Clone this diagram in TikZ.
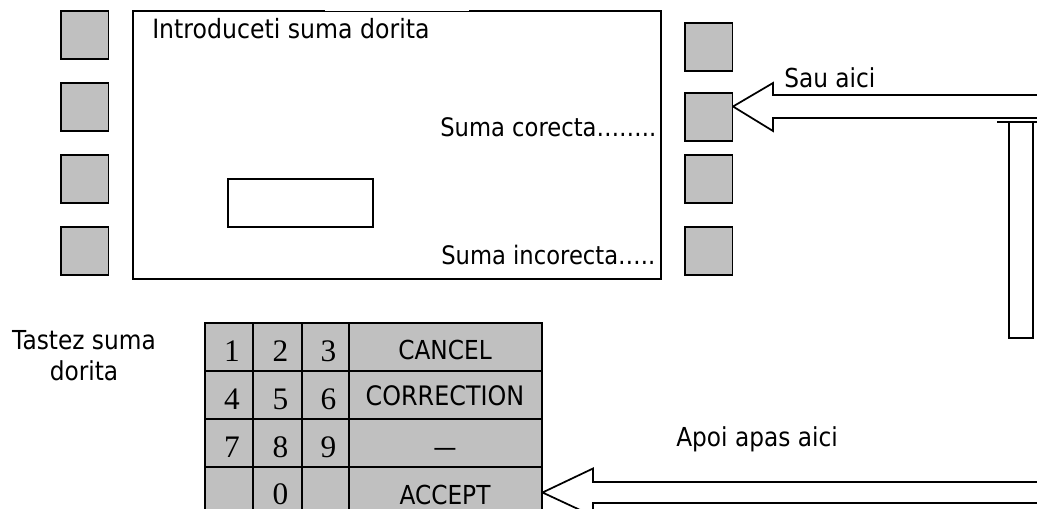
\documentclass[tikz,border=0pt]{standalone}
\usepackage{fontspec}
\setmainfont{DejaVu Sans}[FakeStretch=0.89]
\newfontfamily\keyfont{Liberation Serif}
\tikzset{
  px/.style={x=0.75pt,y=-0.75pt},
  line/.style={draw=black,line width=1.3pt},
  sq/.style={line,fill=keygray,rectangle,inner sep=0pt,minimum width=35.8pt,minimum height=35.8pt},
  cell/.style={line,fill=keygray,rectangle,inner sep=0pt},
  txt/.style={anchor=base west,inner sep=0pt,font=\fontsize{19.6pt}{22pt}\selectfont,text=black},
  ctxt/.style={anchor=base,inner sep=0pt,font=\fontsize{19.6pt}{22pt}\selectfont,text=black},
  digit/.style={anchor=base,inner sep=0pt,font=\fontsize{23.5pt}{26pt}\selectfont\keyfont,text=black},
}
\definecolor{keygray}{HTML}{C0C0C0}
\begin{document}
\begin{tikzpicture}[px]
\useasboundingbox (0,0) rectangle (1037,509);
\clip (0,0) rectangle (1037,509);
% screen
\node[line,rectangle,inner sep=0pt,minimum width=396pt,minimum height=201pt] (screen) at (397,145) {};
\draw[white,line width=0.7pt] (325,10.4) -- (469,10.4);
\node[line,rectangle,inner sep=0pt,minimum width=108.8pt,minimum height=36pt] (input) at (300.5,203) {};
% side keys
\node[sq] (L1) at (84.5,35) {};
\node[sq] (L2) at (84.5,107) {};
\node[sq] (L3) at (84.5,179) {};
\node[sq] (L4) at (84.5,251) {};
\node[sq] (R1) at (708.5,47) {};
\node[sq] (R2) at (708.5,117) {};
\node[sq] (R3) at (708.5,179) {};
\node[sq] (R4) at (708.5,251) {};
% texts on screen
\node[txt,font=\fontsize{19.9pt}{22pt}\selectfont] (t1) at (152,38.5) {Introduceti suma dorita};
\node[txt,font=\fontsize{19.1pt}{22pt}\selectfont] (t2) at (440,137) {Suma corecta……..};
\node[txt,font=\fontsize{19.1pt}{22pt}\selectfont] (t3) at (441,265) {Suma incorecta…..};
\node[txt] (t4) at (784,88) {Sau aici};
\node[txt] (t5) at (676,446) {Apoi apas aici};
\node[ctxt] (t6) at (84,349) {Tastez suma};
\node[ctxt] (t7) at (84,380) {dorita};
% keypad
\foreach \rw/\cy/\h in {a/347/36, b/395/36, c/443/36, d/498.5/47.2}
  \foreach \cl/\cx/\w in {1/229/36, 2/277.3/36.5, 3/325.3/35.5, 4/445.3/144.5}
    \node[cell,minimum width=\w pt,minimum height=\h pt] (\rw\cl) at (\cx,\cy) {};
\node[digit] (n1) at (232,361) {1};
\node[digit] (n2) at (280.5,361) {2};
\node[digit] (n3) at (328.5,361) {3};
\node[digit] (n4) at (232,409) {4};
\node[digit] (n5) at (280.5,409) {5};
\node[digit] (n6) at (328.5,409) {6};
\node[digit] (n7) at (232,457) {7};
\node[digit] (n8) at (280.5,457) {8};
\node[digit] (n9) at (328.5,457) {9};
\node[digit] (n0) at (280.5,504.5) {0};
\node[ctxt] (k1) at (445,359) {CANCEL};
\node[ctxt,font=\fontsize{20.1pt}{22pt}\selectfont] (k2) at (445,405) {CORRECTION};
\node[ctxt] (k3) at (445,456) {—};
\node[ctxt] (k4) at (445,504.5) {ACCEPT};
% block arrows
\draw[line,line join=miter] (733,106.5) -- (773,83) -- (773,95) -- (1040,95) (1040,118) -- (773,118) -- (773,131) -- (733,106.5);
\draw[line] (997,122) -- (1040,122);
\draw[line] (1033,122) -- (1009,122) -- (1009,338) -- (1033,338) -- cycle;
\draw[line,line join=miter] (d4.east |- 0,492.5) -- (593,468.5) -- (593,482) -- (1040,482) (1040,503) -- (593,503) -- (593,516) -- (d4.east |- 0,492.5);
\end{tikzpicture}
\end{document}
